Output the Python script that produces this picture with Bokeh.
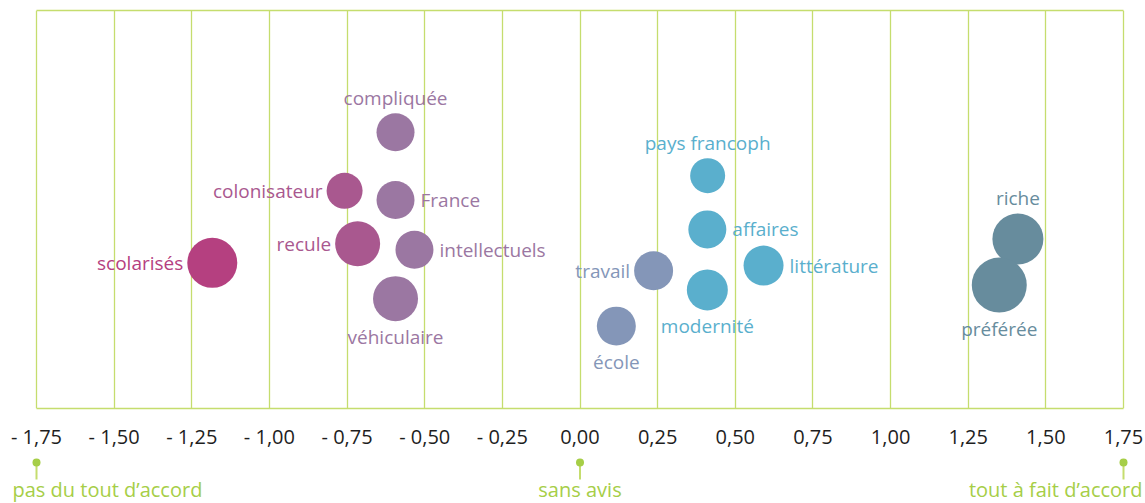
from bokeh.plotting import figure
from bokeh.models import ColumnDataSource, Range1d, FixedTicker, LinearAxis
from bokeh.layouts import column
from bokeh.core.properties import value
from bokeh.embed import file_html
from bokeh.resources import INLINE

# ---- data ----
words = ["compliquée", "colonisateur", "France", "recule", "intellectuels",
         "scolarisés", "véhiculaire", "pays francoph", "affaires", "littérature",
         "travail", "modernité", "école", "riche", "préférée"]
scores = [-0.594, -0.758, -0.594, -0.716, -0.533,
          -1.184, -0.594, 0.411, 0.410, 0.591,
          0.237, 0.410, 0.117, 1.410, 1.350]
rows = [69.4, 54.7, 52.4, 41.4, 39.9,
        36.6, 27.6, 58.5, 45.0, 35.9,
        34.6, 29.8, 20.7, 42.6, 31.0]
weights = [38, 36, 38, 45, 38,
           50, 45, 35, 38, 40,
           39, 41, 39, 51, 55]
groups = ["violet", "rose", "violet", "rose", "violet",
          "magenta", "violet", "bleu", "bleu", "bleu",
          "gris", "bleu", "gris", "ardoise", "ardoise"]

tick_values = [-1.75, -1.5, -1.25, -1.0, -0.75, -0.5, -0.25, 0.0,
               0.25, 0.5, 0.75, 1.0, 1.25, 1.5, 1.75]
tick_labels = ["- 1,75", "- 1,50", "- 1,25", "- 1,00", "- 0,75", "- 0,50", "- 0,25",
               "0,00", "0,25", "0,50", "0,75", "1,00", "1,25", "1,50", "1,75"]

scale_points = [-1.75, 0.0, 1.75]
scale_texts = ["pas du tout d\u2019accord", "sans avis", "tout à fait d\u2019accord"]

# ---- styles ----
palette = {"magenta": "#B54080", "rose": "#A9588F", "violet": "#9B77A2",
           "gris": "#8496B8", "bleu": "#5AAFCD", "ardoise": "#678C9D"}
side = {"compliquée": "above", "colonisateur": "left", "France": "right",
        "recule": "left", "intellectuels": "right", "scolarisés": "left",
        "véhiculaire": "below", "pays francoph": "above", "affaires": "right",
        "littérature": "right", "travail": "left", "modernité": "below",
        "école": "below", "riche": "above", "préférée": "below"}
LIME = "#C5DD6E"
LIME_TEXT = "#A6CE47"
FONT = "Open Sans"

colors = [palette[g] for g in groups]
xo, yo, al = [], [], []
for w, s in zip(words, weights):
    r = s / 2
    sd = side[w]
    if sd == "above":
        xo.append(0); yo.append(-(r + 15)); al.append("center")
    elif sd == "below":
        xo.append(0); yo.append(r + 16); al.append("center")
    elif sd == "left":
        xo.append(-(r + 4)); yo.append(0); al.append("right")
    else:
        xo.append(r + 6); yo.append(0); al.append("left")

src = ColumnDataSource(dict(x=scores, y=rows, size=weights, color=colors,
                            word=words, xo=xo, yo=yo, al=al))

# frame spans the whole width; the scale -1.75..1.75 occupies pixels 36..1123
W = 1145
lo, hi = tick_values[0], tick_values[-1]
ppu = (1123 - 36) / (hi - lo)
xr = Range1d(lo - 36 / ppu, hi + (W - 1123) / ppu)

p = figure(width=W, height=455, output_backend="svg", toolbar_location=None,
           x_range=xr, y_range=Range1d(0, 100))
p.min_border_left = 0
p.min_border_right = 0
p.min_border_top = 10
p.min_border_bottom = 47
p.outline_line_color = None
p.background_fill_color = "white"
p.border_fill_color = "white"

p.xgrid.ticker = FixedTicker(ticks=tick_values)
p.xgrid.grid_line_color = LIME
p.xgrid.grid_line_width = 1.3
p.ygrid.visible = False
p.yaxis.visible = False

ax = p.xaxis[0]
ax.ticker = FixedTicker(ticks=tick_values)
ax.bounds = (lo, hi)
ax.major_label_overrides = {v: t for v, t in zip(tick_values, tick_labels)}
ax.axis_line_color = LIME
ax.axis_line_width = 1.5
ax.major_tick_line_color = None
ax.minor_tick_line_color = None
ax.major_label_text_font = FONT
ax.major_label_text_font_size = "20px"
ax.major_label_text_color = "#1E1E1E"
ax.major_label_standoff = 8

top = LinearAxis(ticker=FixedTicker(ticks=[]), bounds=(lo, hi),
                 axis_line_color=LIME, axis_line_width=1.5,
                 major_tick_line_color=None, minor_tick_line_color=None,
                 major_label_text_font_size="0px")
p.add_layout(top, "above")

p.scatter("x", "y", size="size", marker="circle", fill_color="color",
          line_color=None, source=src)
p.text("x", "y", text="word", x_offset="xo", y_offset="yo", text_align="al",
       text_baseline="middle", text_color="color", text_font=value(FONT),
       text_font_size="19px", source=src)

# ---- scale captions row ----
q = figure(width=W, height=48, output_backend="svg", toolbar_location=None,
           x_range=xr, y_range=Range1d(0, 48))
q.min_border = 0
q.outline_line_color = None
q.axis.visible = False
q.grid.visible = False

cap = ColumnDataSource(dict(x=scale_points, t=scale_texts,
                            xo=[-24, 0, 19], al=["left", "center", "right"],
                            y0=[41] * 3, y1=[24] * 3, yt=[14] * 3))
q.segment(x0="x", y0="y0", x1="x", y1="y1", line_color=LIME, line_width=2, source=cap)
q.scatter("x", "y0", size=8, marker="circle", fill_color=LIME_TEXT, line_color=None, source=cap)
q.text("x", "yt", text="t", x_offset="xo", text_align="al", text_baseline="middle",
       text_color=LIME_TEXT, text_font=value(FONT), text_font_size="20px", source=cap)

layout = column(p, q, spacing=0)
open("out.html", "w").write(file_html(layout, INLINE))
